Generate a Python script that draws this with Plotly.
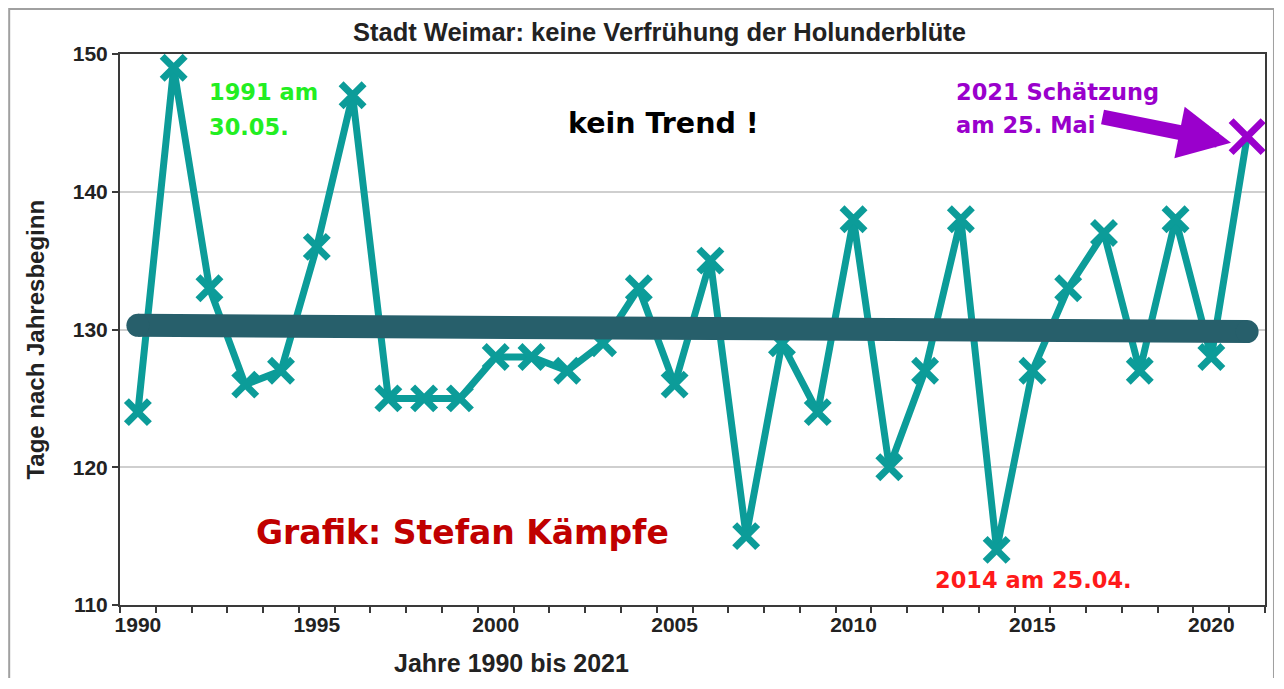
import plotly.graph_objects as go

# ---- data ----
years = list(range(1990, 2022))
bloom_days = [124, 149, 133, 126, 127, 136, 147, 125, 125, 125,
              128, 128, 127, 129, 133, 126, 135, 115, 129, 124,
              138, 120, 127, 138, 114, 127, 133, 137, 127, 138,
              128, 144]
trend_years = [1990, 2021]
trend_values = [130.3, 129.85]
y_ticks = [110, 120, 130, 140, 150]
x_ticks = [1990, 1995, 2000, 2005, 2010, 2015, 2020]

TEAL = "#0c9c99"
TREND = "#275f6b"
PURPLE = "#9a00cc"
FONT = "Liberation Sans"
NOTE_FONT = "DejaVu Sans"

marker_colors = [TEAL] * (len(years) - 1) + [PURPLE]
marker_sizes = [23] * (len(years) - 1) + [32]

fig = go.Figure()

fig.add_trace(go.Scatter(
    x=years, y=bloom_days, mode="lines+markers",
    line=dict(color=TEAL, width=7),
    marker=dict(symbol="x-thin", size=marker_sizes, opacity=1,
                line=dict(color=marker_colors, width=7)),
    showlegend=False, hoverinfo="x+y",
))

fig.add_trace(go.Scatter(
    x=trend_years, y=trend_values, mode="lines+markers",
    line=dict(color=TREND, width=23),
    marker=dict(symbol="circle", size=23, color=TREND, opacity=1, line=dict(width=0)),
    showlegend=False, hoverinfo="skip",
))

# page has an 8px body margin -> figure placed at (8,8)
fig.update_layout(
    width=1266, height=670, autosize=False,
    margin=dict(l=112, r=7, t=46, b=73),
    plot_bgcolor="white", paper_bgcolor="white",
    font=dict(family=FONT, color="#222222"),
    showlegend=False,
)

fig.update_xaxes(
    range=[1989.5, 2021.5],
    tickvals=x_ticks, ticktext=[str(v) for v in x_ticks],
    ticks="", tickfont=dict(family=FONT, size=21, color="#222222", weight="bold"),
    showgrid=False, zeroline=False,
    showline=True, linecolor="#3a3a3a", linewidth=2, mirror=True,
    minor=dict(ticks="outside", tick0=1989.5, dtick=1, ticklen=6,
               tickwidth=2, tickcolor="#3a3a3a", showgrid=False),
)

fig.update_yaxes(
    range=[110, 150], tickvals=y_ticks,
    ticks="outside", ticklen=6, tickwidth=2, tickcolor="#3a3a3a",
    tickfont=dict(family=FONT, size=21, color="#222222", weight="bold"),
    showgrid=True, gridcolor="#cfcfcf", gridwidth=1.5, zeroline=False,
    showline=True, linecolor="#3a3a3a", linewidth=2, mirror=True,
)

ann = []
# title
ann.append(dict(x=0.4708, y=1.04, xref="paper", yref="paper",
                text="Stadt Weimar: keine Verfrühung der Holunderblüte",
                showarrow=False, xanchor="center", yanchor="middle",
                font=dict(family=FONT, size=25.5, color="#222222", weight="bold")))
# axis titles
ann.append(dict(x=-0.0741, y=0.482, xref="paper", yref="paper",
                text="Tage nach Jahresbeginn", textangle=-90,
                showarrow=False, xanchor="center", yanchor="middle",
                font=dict(family=FONT, size=24, color="#222222", weight="bold")))
ann.append(dict(x=0.3418, y=-0.1055, xref="paper", yref="paper",
                text="Jahre 1990 bis 2021",
                showarrow=False, xanchor="center", yanchor="middle",
                font=dict(family=FONT, size=25, color="#222222", weight="bold")))
# text notes
NS = 22.5
ann.append(dict(x=1991.93, y=147.27, text="1991 am", showarrow=False,
                xanchor="left", yanchor="middle",
                font=dict(family=NOTE_FONT, size=NS, color="#22ee22", weight="bold")))
ann.append(dict(x=1991.93, y=144.73, text="30.05.", showarrow=False,
                xanchor="left", yanchor="middle",
                font=dict(family=NOTE_FONT, size=NS, color="#22ee22", weight="bold")))
ann.append(dict(x=2004.7, y=144.95, text="kein Trend !", showarrow=False,
                xanchor="center", yanchor="middle",
                font=dict(family=NOTE_FONT, size=28.5, color="#000000", weight="bold")))
ann.append(dict(x=2012.8, y=147.27, text="2021 Schätzung", showarrow=False,
                xanchor="left", yanchor="middle",
                font=dict(family=NOTE_FONT, size=NS, color=PURPLE, weight="bold")))
ann.append(dict(x=2012.8, y=144.87, text="am 25. Mai", showarrow=False,
                xanchor="left", yanchor="middle",
                font=dict(family=NOTE_FONT, size=NS, color=PURPLE, weight="bold")))
ann.append(dict(x=2020.55, y=143.56, ax=-130, ay=-26, text="",
                showarrow=True, arrowhead=2, arrowsize=0.7, arrowwidth=15,
                arrowcolor=PURPLE, standoff=0, startstandoff=0))
ann.append(dict(x=1999.07, y=115.27, text="Grafik: Stefan Kämpfe", showarrow=False,
                xanchor="center", yanchor="middle",
                font=dict(family=NOTE_FONT, size=33, color="#c00000", weight="bold")))
ann.append(dict(x=2015.03, y=111.78, text="2014 am 25.04.", showarrow=False,
                xanchor="center", yanchor="middle",
                font=dict(family=NOTE_FONT, size=NS, color="#ff1a1a", weight="bold")))
fig.update_layout(annotations=ann)

# outer frame of the chart
fig.add_shape(type="rect", xref="paper", yref="paper",
              x0=(9 - 120) / 1147, x1=(1276 - 120) / 1147,
              y0=(605 - 700) / 551, y1=(605 - 9) / 551,
              line=dict(color="#a0a0a0", width=2), fillcolor="rgba(0,0,0,0)",
              layer="below")

fig.write_html("out.html")
